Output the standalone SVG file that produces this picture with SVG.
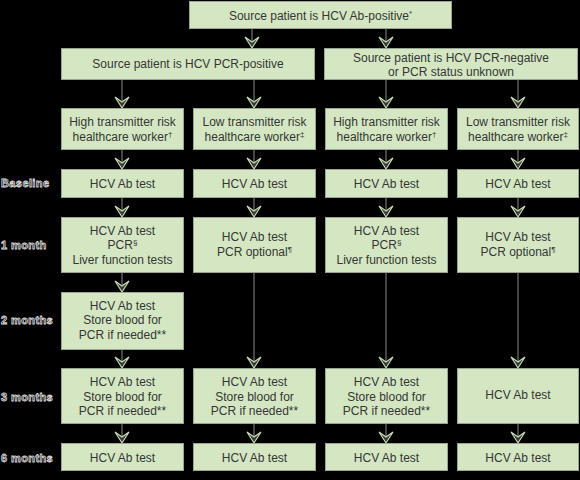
<svg xmlns="http://www.w3.org/2000/svg" width="580" height="480" viewBox="0 0 580 480">
<defs>
<style>
.box{fill:#d4e7c2;stroke:#9aa494;stroke-width:1}
.t{font-family:"Liberation Sans",Arial,sans-serif;font-size:12px;fill:#363636;text-anchor:middle}
.lab{font-family:"Liberation Sans",Arial,sans-serif;font-size:11px;font-weight:bold;letter-spacing:0.4px;fill:#111;stroke:#d8d8d8;stroke-width:0.8}
.ln{stroke:#8a8a8a;stroke-width:1;fill:none}
.ah{fill:#3a3a3a;stroke:#c4dcb0;stroke-width:1.2;stroke-linejoin:miter}
.sup{font-size:8px}
</style>
</defs>
<rect width="580" height="480" fill="#000"/>
<g id="labels">
<text class="lab" x="1" y="187">Baseline</text>
<text class="lab" x="1" y="249">1 month</text>
<text class="lab" x="1" y="324">2 months</text>
<text class="lab" x="1" y="401">3 months</text>
<text class="lab" x="1" y="462">6 months</text>
</g>
<g id="connectors">
<line class="ln" x1="252" y1="29" x2="252" y2="46"/><path class="ah" d="M245,37 L252,42 L259,37 L252,48 Z"/>
<line class="ln" x1="386" y1="29" x2="386" y2="46"/><path class="ah" d="M379,37 L386,42 L393,37 L386,48 Z"/>
<line class="ln" x1="122" y1="80" x2="122" y2="106"/><path class="ah" d="M115,97 L122,102 L129,97 L122,108 Z"/>
<line class="ln" x1="254" y1="80" x2="254" y2="106"/><path class="ah" d="M247,97 L254,102 L261,97 L254,108 Z"/>
<line class="ln" x1="386" y1="80" x2="386" y2="106"/><path class="ah" d="M379,97 L386,102 L393,97 L386,108 Z"/>
<line class="ln" x1="518" y1="80" x2="518" y2="106"/><path class="ah" d="M511,97 L518,102 L525,97 L518,108 Z"/>
<line class="ln" x1="122" y1="150" x2="122" y2="167"/><path class="ah" d="M115,158 L122,163 L129,158 L122,169 Z"/>
<line class="ln" x1="254" y1="150" x2="254" y2="167"/><path class="ah" d="M247,158 L254,163 L261,158 L254,169 Z"/>
<line class="ln" x1="386" y1="150" x2="386" y2="167"/><path class="ah" d="M379,158 L386,163 L393,158 L386,169 Z"/>
<line class="ln" x1="518" y1="150" x2="518" y2="167"/><path class="ah" d="M511,158 L518,163 L525,158 L518,169 Z"/>
<line class="ln" x1="122" y1="197" x2="122" y2="215"/><path class="ah" d="M115,206 L122,211 L129,206 L122,217 Z"/>
<line class="ln" x1="254" y1="197" x2="254" y2="215"/><path class="ah" d="M247,206 L254,211 L261,206 L254,217 Z"/>
<line class="ln" x1="386" y1="197" x2="386" y2="215"/><path class="ah" d="M379,206 L386,211 L393,206 L386,217 Z"/>
<line class="ln" x1="518" y1="197" x2="518" y2="215"/><path class="ah" d="M511,206 L518,211 L525,206 L518,217 Z"/>
<line class="ln" x1="122" y1="272" x2="122" y2="290"/><path class="ah" d="M115,281 L122,286 L129,281 L122,292 Z"/>
<line class="ln" x1="122" y1="349" x2="122" y2="366"/><path class="ah" d="M115,357 L122,362 L129,357 L122,368 Z"/>
<line class="ln" x1="254" y1="272" x2="254" y2="366"/><path class="ah" d="M247,357 L254,362 L261,357 L254,368 Z"/>
<line class="ln" x1="386" y1="272" x2="386" y2="366"/><path class="ah" d="M379,357 L386,362 L393,357 L386,368 Z"/>
<line class="ln" x1="518" y1="272" x2="518" y2="366"/><path class="ah" d="M511,357 L518,362 L525,357 L518,368 Z"/>
<line class="ln" x1="122" y1="423" x2="122" y2="441"/><path class="ah" d="M115,432 L122,437 L129,432 L122,443 Z"/>
<line class="ln" x1="254" y1="423" x2="254" y2="441"/><path class="ah" d="M247,432 L254,437 L261,432 L254,443 Z"/>
<line class="ln" x1="386" y1="423" x2="386" y2="441"/><path class="ah" d="M379,432 L386,437 L393,432 L386,443 Z"/>
<line class="ln" x1="518" y1="423" x2="518" y2="441"/><path class="ah" d="M511,432 L518,437 L525,432 L518,443 Z"/>
</g>
<g id="top"><rect class="box" x="189.5" y="1.5" width="262" height="27"/><text class="t" x="320.5" y="20">Source patient is HCV Ab-positive<tspan class="sup" dy="-4">*</tspan></text></g>
<g id="pcrpos"><rect class="box" x="61.5" y="48.5" width="253" height="31"/><text class="t" x="188" y="68">Source patient is HCV PCR-positive</text></g>
<g id="pcrneg"><rect class="box" x="324.5" y="48.5" width="253" height="31"/><text class="t" x="451" y="62">Source patient is HCV PCR-negative</text><text class="t" x="451" y="76">or PCR status unknown</text></g>
<g id="w1"><rect class="box" x="61.5" y="108.5" width="122" height="41"/><text class="t" x="122.5" y="126">High transmitter risk</text><text class="t" x="122.5" y="141">healthcare worker<tspan class="sup" dy="-4">†</tspan></text></g>
<g id="w2"><rect class="box" x="193.5" y="108.5" width="122" height="41"/><text class="t" x="254.5" y="126">Low transmitter risk</text><text class="t" x="254.5" y="141">healthcare worker<tspan class="sup" dy="-4">‡</tspan></text></g>
<g id="w3"><rect class="box" x="325.5" y="108.5" width="122" height="41"/><text class="t" x="386.5" y="126">High transmitter risk</text><text class="t" x="386.5" y="141">healthcare worker<tspan class="sup" dy="-4">†</tspan></text></g>
<g id="w4"><rect class="box" x="457.5" y="108.5" width="121" height="41"/><text class="t" x="518" y="126">Low transmitter risk</text><text class="t" x="518" y="141">healthcare worker<tspan class="sup" dy="-4">‡</tspan></text></g>
<g id="b1"><rect class="box" x="61.5" y="169.5" width="122" height="28"/><text class="t" x="122.5" y="188">HCV Ab test</text></g>
<g id="b2"><rect class="box" x="193.5" y="169.5" width="122" height="28"/><text class="t" x="254.5" y="188">HCV Ab test</text></g>
<g id="b3"><rect class="box" x="325.5" y="169.5" width="122" height="28"/><text class="t" x="386.5" y="188">HCV Ab test</text></g>
<g id="b4"><rect class="box" x="457.5" y="169.5" width="121" height="28"/><text class="t" x="518" y="188">HCV Ab test</text></g>
<g id="m1a"><rect class="box" x="61.5" y="217.5" width="122" height="55"/><text class="t" x="122.5" y="235">HCV Ab test</text><text class="t" x="122.5" y="249">PCR<tspan class="sup" dy="-4">§</tspan></text><text class="t" x="122.5" y="264">Liver function tests</text></g>
<g id="m1b"><rect class="box" x="193.5" y="217.5" width="122" height="55"/><text class="t" x="254.5" y="241">HCV Ab test</text><text class="t" x="254.5" y="256">PCR optional<tspan class="sup" dy="-4">¶</tspan></text></g>
<g id="m1c"><rect class="box" x="325.5" y="217.5" width="122" height="55"/><text class="t" x="386.5" y="235">HCV Ab test</text><text class="t" x="386.5" y="249">PCR<tspan class="sup" dy="-4">§</tspan></text><text class="t" x="386.5" y="264">Liver function tests</text></g>
<g id="m1d"><rect class="box" x="457.5" y="217.5" width="121" height="55"/><text class="t" x="518" y="241">HCV Ab test</text><text class="t" x="518" y="256">PCR optional<tspan class="sup" dy="-4">¶</tspan></text></g>
<g id="m2a"><rect class="box" x="61.5" y="292.5" width="122" height="57"/><text class="t" x="122.5" y="310">HCV Ab test</text><text class="t" x="122.5" y="324">Store blood for</text><text class="t" x="122.5" y="339">PCR if needed**</text></g>
<g id="m3a"><rect class="box" x="61.5" y="368.5" width="122" height="55"/><text class="t" x="122.5" y="386">HCV Ab test</text><text class="t" x="122.5" y="401">Store blood for</text><text class="t" x="122.5" y="415">PCR if needed**</text></g>
<g id="m3b"><rect class="box" x="193.5" y="368.5" width="122" height="55"/><text class="t" x="254.5" y="386">HCV Ab test</text><text class="t" x="254.5" y="401">Store blood for</text><text class="t" x="254.5" y="415">PCR if needed**</text></g>
<g id="m3c"><rect class="box" x="325.5" y="368.5" width="122" height="55"/><text class="t" x="386.5" y="386">HCV Ab test</text><text class="t" x="386.5" y="401">Store blood for</text><text class="t" x="386.5" y="415">PCR if needed**</text></g>
<g id="m3d"><rect class="box" x="457.5" y="368.5" width="121" height="55"/><text class="t" x="518" y="399">HCV Ab test</text></g>
<g id="m6a"><rect class="box" x="61.5" y="443.5" width="122" height="27"/><text class="t" x="122.5" y="462">HCV Ab test</text></g>
<g id="m6b"><rect class="box" x="193.5" y="443.5" width="122" height="27"/><text class="t" x="254.5" y="462">HCV Ab test</text></g>
<g id="m6c"><rect class="box" x="325.5" y="443.5" width="122" height="27"/><text class="t" x="386.5" y="462">HCV Ab test</text></g>
<g id="m6d"><rect class="box" x="457.5" y="443.5" width="121" height="27"/><text class="t" x="518" y="462">HCV Ab test</text></g>
</svg>
